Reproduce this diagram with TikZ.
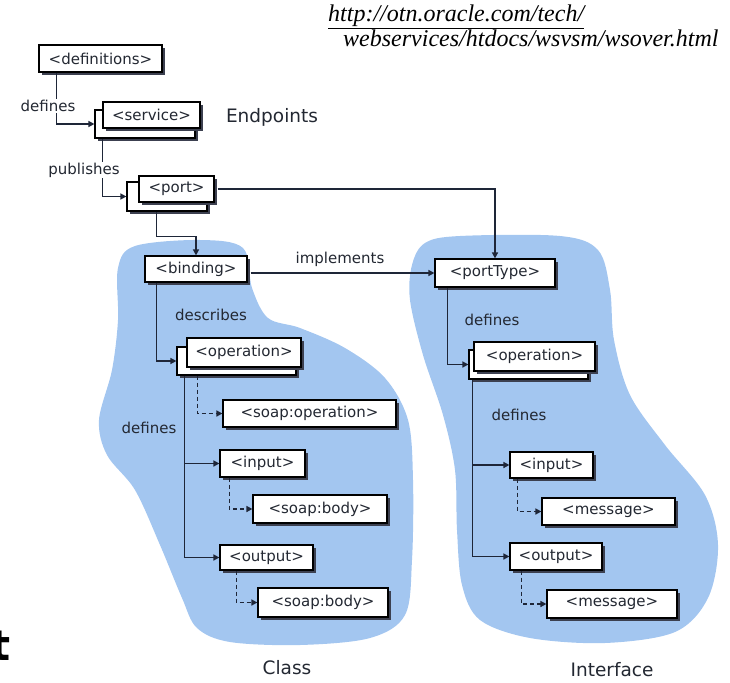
\documentclass[tikz,border=0pt]{standalone}
\usepackage{fontspec}
\setmainfont{DejaVu Sans}
\newfontfamily\urlfont{Liberation Serif}
\newfontfamily\bigfont{DejaVu Sans}
\usetikzlibrary{shadows,arrows.meta,calc}
\definecolor{blob}{RGB}{163,198,240}
\definecolor{ln}{RGB}{30,38,56}
\definecolor{shd}{RGB}{60,64,80}
\definecolor{txt}{RGB}{35,40,50}
\tikzset{
  tag/.style={draw=black, line width=1.2pt, fill=white, inner sep=0pt,
    font=\fontsize{15}{15}\selectfont, text=txt,
    drop shadow={shadow xshift=3pt, shadow yshift=-3pt, fill=shd, opacity=1}},
  conn/.style={draw=ln, line width=1.5pt, -{Triangle[length=6pt,width=6pt]}},
  dconn/.style={conn, dash pattern=on 4pt off 3pt},
  lbl/.style={font=\fontsize{15}{15}\selectfont, text=txt, inner sep=1pt},
  big/.style={font=\fontsize{18.5}{18.5}\selectfont, text=txt, inner sep=0pt},
}
\begin{document}
\begin{tikzpicture}[x=1pt,y=-1pt]
\useasboundingbox (0,0) rectangle (730,682);
% blobs
\fill[blob] plot[smooth cycle, tension=0.55] coordinates {
 (118,268) (135,246) (200,240) (243,248) (252,288) (268,318) (300,328) (345,348)
 (385,378) (408,420) (413,480) (412,560) (405,615) (370,638) (300,645) (230,642)
 (197,628) (182,598) (160,545) (135,490) (107,455) (99,420) (112,370) (118,320)};
\fill[blob] plot[smooth cycle, tension=0.55] coordinates {
 (412,265) (425,243) (460,236) (560,236) (598,250) (610,290) (614,340) (630,395)
 (665,445) (705,495) (718,545) (708,598) (675,632) (605,643) (530,638) (480,620)
 (462,585) (457,530) (455,470) (443,415) (423,355) (410,300)};
% boxes
\node[tag, minimum width=123pt, minimum height=27pt] (defs) at (100.5,58.5) {<definitions>};
\node[tag, minimum width=100pt, minimum height=28pt] (serviceB) at (145,124) {};
\node[tag, minimum width=97pt, minimum height=26pt] (serviceF) at (151.5,115) {<service>};
\node[tag, minimum width=80pt, minimum height=29pt] (portB) at (167,196.5) {};
\node[tag, minimum width=75pt, minimum height=26pt] (portF) at (176.5,189) {<port>};
\node[tag, minimum width=102pt, minimum height=26pt] (binding) at (196,269) {<binding>};
\node[tag, minimum width=120pt, minimum height=28pt] (portType) at (495,273) {<portType>};
\node[tag, minimum width=119pt, minimum height=28pt] (copB) at (236.5,361) {};
\node[tag, minimum width=114pt, minimum height=29pt] (copF) at (244,352.5) {<operation>};
\node[tag, minimum width=173pt, minimum height=27pt] (soapop) at (309.5,413.5) {<soap:operation>};
\node[tag, minimum width=85pt, minimum height=27pt] (cin) at (262.5,463.5) {<input>};
\node[tag, minimum width=134pt, minimum height=28pt] (sb1) at (320,509) {<soap:body>};
\node[tag, minimum width=93pt, minimum height=25pt] (cout) at (266.5,557.5) {<output>};
\node[tag, minimum width=130pt, minimum height=29pt] (sb2) at (323,602.5) {<soap:body>};
\node[tag, minimum width=119pt, minimum height=29pt] (iopB) at (528.5,364.5) {};
\node[tag, minimum width=121pt, minimum height=29pt] (iopF) at (534.5,356.5) {<operation>};
\node[tag, minimum width=83pt, minimum height=26pt] (iin) at (551.5,465) {<input>};
\node[tag, minimum width=133pt, minimum height=27pt] (msg1) at (608.5,511.5) {<message>};
\node[tag, minimum width=92pt, minimum height=27pt] (iout) at (556,556.5) {<output>};
\node[tag, minimum width=130pt, minimum height=28pt] (msg2) at (612,604) {<message>};
% connectors
\draw[conn] ($(defs.south west)+(18,0)$) |- (serviceB.west);
\draw[conn] ($(serviceB.south west)+(8,0)$) |- (portB.west);
\draw[conn] ($(portB.south west)+(30,0)$) -- ++(0,25) -| (binding.north);
\draw[conn] ($(portF.east)+(3,0)$) -| (portType.north);
\draw[conn] ($(binding.east)+(3,4)$) -- (portType.west);
\draw[conn] ($(binding.south west)+(12,0)$) |- (copB.west);
\draw[dconn] ($(copB.south west)+(21,0)$) |- (soapop.west);
\draw[conn] ($(copB.south west)+(8,0)$) |- (cin.west);
\draw[conn] ($(copB.south west)+(8,0)$) |- (cout.west);
\draw[dconn] ($(cin.south west)+(10,0)$) |- (sb1.west);
\draw[dconn] ($(cout.south west)+(17,0)$) |- (sb2.west);
\draw[conn] ($(portType.south west)+(13,0)$) |- (iopB.west);
\draw[conn] ($(iopB.south west)+(4,0)$) |- (iin.west);
\draw[conn] ($(iopB.south west)+(4,0)$) |- (iout.west);
\draw[dconn] ($(iin.south west)+(8,0)$) |- (msg1.west);
\draw[dconn] ($(iout.south west)+(12,0)$) |- (msg2.west);
% labels
\node[lbl, fill=white] (ldef1) at (48,106) {defines};
\node[lbl, fill=white] (lpub) at (84,170) {publishes};
\node[lbl] (limpl) at (340,259) {implements};
\node[lbl] (ldesc) at (211,315) {describes};
\node[lbl] (ldef2) at (149,428) {defines};
\node[lbl] (ldef3) at (492,320) {defines};
\node[lbl] (ldef4) at (519,415) {defines};
\node[big] (endp) at (272,117) {Endpoints};
\node[big] (cls) at (287,668) {Class};
\node[big] (intf) at (612,670) {Interface};
% url
\node[anchor=base west, inner sep=0pt, font=\urlfont\itshape\fontsize{24}{24}\selectfont] (url1) at (328,22) {\underline{http://otn.oracle.com/tech/}};
\node[anchor=base west, inner sep=0pt, font=\urlfont\itshape\fontsize{24}{24}\selectfont] (url2) at (343,47) {webservices/htdocs/wsvsm/wsover.html};
% cut-off glyph at the left edge, as in the reference
\node[anchor=base east, inner sep=0pt, font=\bigfont\bfseries\fontsize{42}{42}\selectfont] (tglyph) at (11,660) {t};
\end{tikzpicture}
\end{document}
